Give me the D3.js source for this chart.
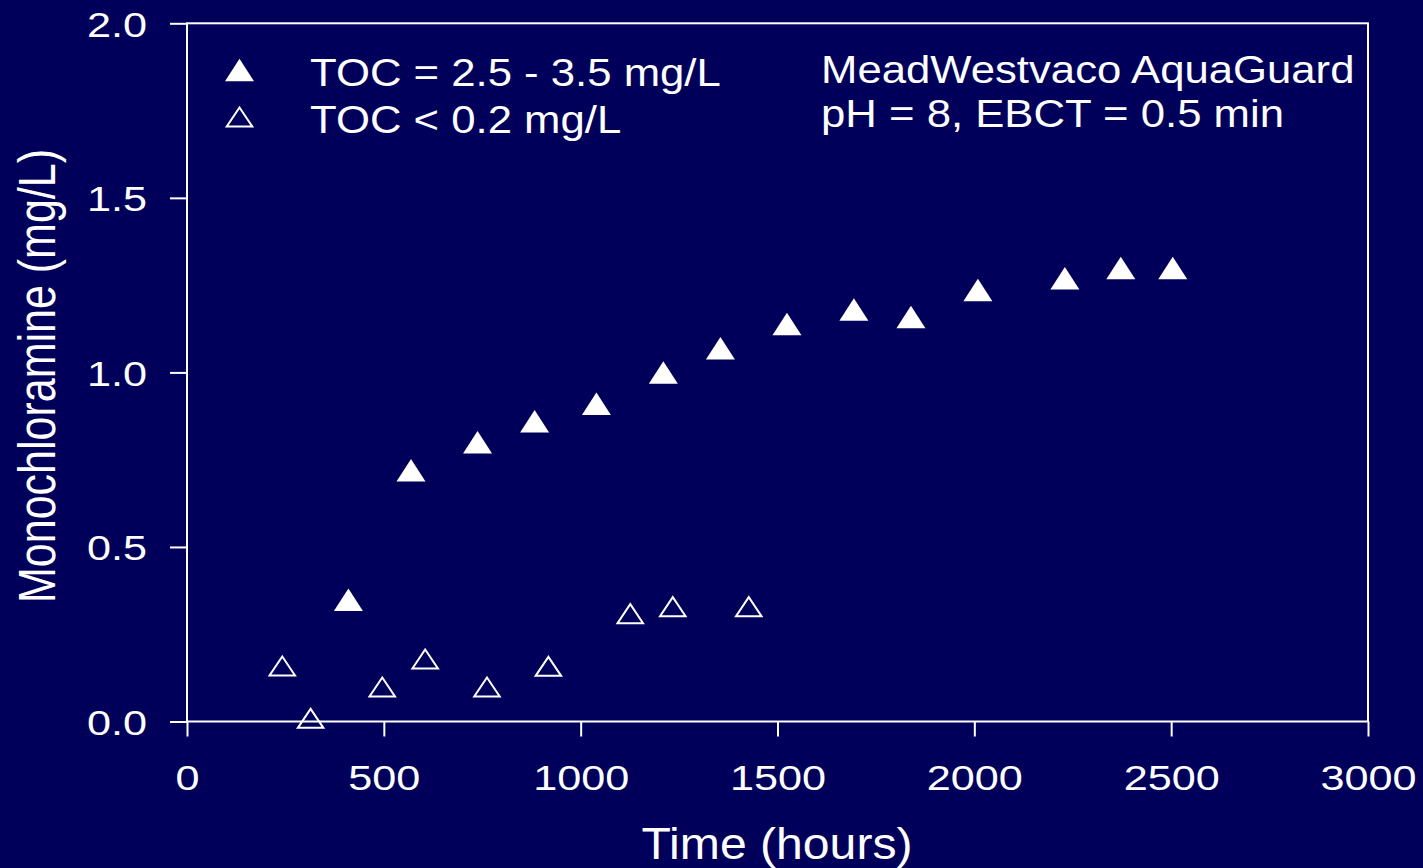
<!DOCTYPE html>
<html>
<head>
<meta charset="utf-8">
<script src="https://cdn.jsdelivr.net/npm/d3@7"></script>
<style>
  html, body { margin: 0; padding: 0; background: #00005a; }
  svg { display: block; }
  text { font-family: "Liberation Sans", Arial, sans-serif; fill: #ffffff; }
</style>
</head>
<body>
<svg id="chart" width="1423" height="868"></svg>
<script>
// ---- data ----
const filledTime = [410, 569, 738, 883, 1040, 1210, 1355, 1524, 1694, 1839, 2009, 2230, 2372, 2504];
const filledNH2Cl = [0.349, 0.720, 0.800, 0.860, 0.910, 1.000, 1.069, 1.139, 1.180, 1.159, 1.236, 1.270, 1.299, 1.299];
const openTime = [242, 314, 496, 605, 762, 918, 1126, 1234, 1427];
const openNH2Cl = [0.159, 0.009, 0.099, 0.179, 0.099, 0.158, 0.309, 0.329, 0.329];
const xTicks = [0, 500, 1000, 1500, 2000, 2500, 3000];
const yTicks = [0.0, 0.5, 1.0, 1.5, 2.0];
const legendLabels = ["TOC = 2.5 - 3.5 mg/L", "TOC < 0.2 mg/L"];
const noteLines = ["MeadWestvaco AquaGuard", "pH = 8, EBCT = 0.5 min"];
const xTitle = "Time (hours)";
const yTitle = "Monochloramine (mg/L)";

// ---- layout ----
const svg = d3.select("#chart");
const plotLeft = 187, plotRight = 1368, plotTop = 23.3, plotBottom = 721.5;
const x = d3.scaleLinear().domain([0, 3000]).range([plotLeft, plotRight]);
const y = d3.scaleLinear().domain([0, 2]).range([plotBottom, plotTop]);

svg.append("rect").attr("width", 1423).attr("height", 868).attr("fill", "#00005a");

// frame
svg.append("rect")
  .attr("x", plotLeft).attr("y", plotTop)
  .attr("width", plotRight - plotLeft).attr("height", plotBottom - plotTop)
  .attr("fill", "none").attr("stroke", "#fff").attr("stroke-width", 2);

// axes
const gx = svg.append("g").attr("transform", `translate(0,${plotBottom})`)
  .call(d3.axisBottom(x).tickValues(xTicks).tickSize(15).tickFormat(d3.format("d")));
const gy = svg.append("g").attr("transform", `translate(${plotLeft},0)`)
  .call(d3.axisLeft(y).tickValues(yTicks).tickSize(17).tickFormat(d3.format(".1f")));
[gx, gy].forEach(g => {
  g.select(".domain").remove();
  g.selectAll(".tick line").attr("stroke", "#fff").attr("stroke-width", 2);
  g.selectAll("text").attr("fill", "#fff")
    .style("font-family", '"Liberation Sans", Arial, sans-serif')
    .style("font-size", "36px");
});
gx.selectAll(".tick text").attr("y", 68.5).attr("dy", 0).attr("transform", "scale(1.2,1)");
gy.selectAll(".tick text").attr("x", -40 / 1.2).attr("dy", 13).attr("transform", "scale(1.2,1)");

// triangle paths
function tri(w, h) {
  return `M0,${-h / 2}L${w / 2},${h / 2}L${-w / 2},${h / 2}Z`;
}
const filledPath = tri(29, 22.5);
const openPath = tri(25.5, 19);

const filledData = filledTime.map((t, i) => ({ t, v: filledNH2Cl[i] }));
const openData = openTime.map((t, i) => ({ t, v: openNH2Cl[i] }));

svg.append("g").selectAll("path").data(filledData).join("path")
  .attr("d", filledPath)
  .attr("transform", d => `translate(${x(d.t)},${y(d.v)})`)
  .attr("fill", "#fff");

svg.append("g").selectAll("path").data(openData).join("path")
  .attr("d", openPath)
  .attr("transform", d => `translate(${x(d.t)},${y(d.v)})`)
  .attr("fill", "none").attr("stroke", "#fff").attr("stroke-width", 2)
  .attr("stroke-linejoin", "miter");

// legend
svg.append("path").attr("d", filledPath).attr("transform", "translate(239.5,70)").attr("fill", "#fff");
svg.append("path").attr("d", openPath).attr("transform", "translate(239.5,117)")
  .attr("fill", "none").attr("stroke", "#fff").attr("stroke-width", 2);
const legendBase = [86, 133];
legendLabels.forEach((s, i) => {
  svg.append("text").text(s)
    .attr("transform", `translate(310,${legendBase[i]}) scale(1.15,1)`)
    .style("font-size", "38px");
});

// note
const noteBase = [83, 127];
noteLines.forEach((s, i) => {
  svg.append("text").text(s)
    .attr("transform", `translate(821,${noteBase[i]}) scale(1.15,1)`)
    .style("font-size", "38px");
});

// axis titles
svg.append("text").text(xTitle)
  .attr("text-anchor", "middle")
  .attr("transform", "translate(777,859) scale(1.07,1)")
  .style("font-size", "45px");

svg.append("text").text(yTitle)
  .attr("text-anchor", "middle")
  .attr("transform", "translate(55,376) rotate(-90) scale(1,1.19)")
  .style("font-size", "43px");
</script>
</body>
</html>
